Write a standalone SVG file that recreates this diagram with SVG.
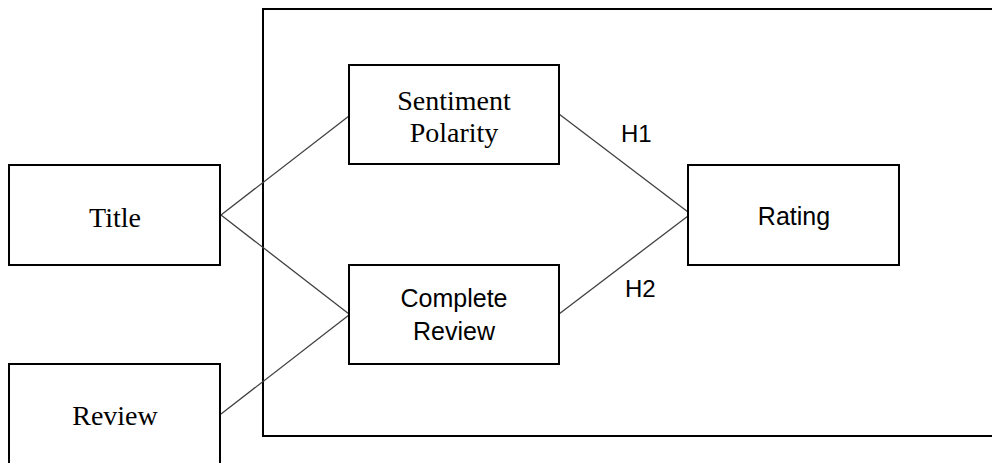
<svg xmlns="http://www.w3.org/2000/svg" width="992" height="463" viewBox="0 0 992 463">
<style>
.box{fill:#fff;stroke:#000;stroke-width:2}
.frame{fill:none;stroke:#000;stroke-width:2}
.serif{font-family:"Liberation Serif","Times New Roman",serif;font-size:28px;fill:#000;text-anchor:middle}
.sans{font-family:"Liberation Sans",Arial,sans-serif;font-size:25px;fill:#000;text-anchor:middle}
.lbl{font-family:"Liberation Sans",Arial,sans-serif;font-size:24px;fill:#000;text-anchor:start}
.conn line{stroke:#404040;stroke-width:1.3}
</style>
<rect width="992" height="463" fill="#fff"/>
<rect id="frame" class="frame" x="263" y="9" width="760" height="427"/>
<g id="connectors" class="conn">
<line x1="221" y1="215" x2="349" y2="116"/>
<line x1="221" y1="215" x2="349" y2="314"/>
<line x1="221" y1="414" x2="349" y2="315"/>
<line x1="559" y1="114" x2="688" y2="212"/>
<line x1="559" y1="314" x2="688" y2="216"/>
</g>
<g id="title">
<rect class="box" x="9" y="165" width="211" height="100"/>
<text class="serif" x="115" y="227">Title</text>
</g>
<g id="review">
<rect class="box" x="9" y="364" width="211" height="120"/>
<text class="serif" x="115" y="425">Review</text>
</g>
<g id="sentiment">
<rect class="box" x="349" y="65" width="210" height="99"/>
<text class="serif" x="454" y="110">Sentiment</text>
<text class="serif" x="454" y="142">Polarity</text>
</g>
<g id="complete">
<rect class="box" x="349" y="265" width="210" height="99"/>
<text class="sans" x="454" y="307">Complete</text>
<text class="sans" x="454" y="340">Review</text>
</g>
<g id="rating">
<rect class="box" x="688" y="165" width="211" height="100"/>
<text class="sans" x="794" y="225">Rating</text>
</g>
<g id="labels">
<text class="lbl" x="621" y="142">H1</text>
<text class="lbl" x="625" y="297">H2</text>
</g>
</svg>
